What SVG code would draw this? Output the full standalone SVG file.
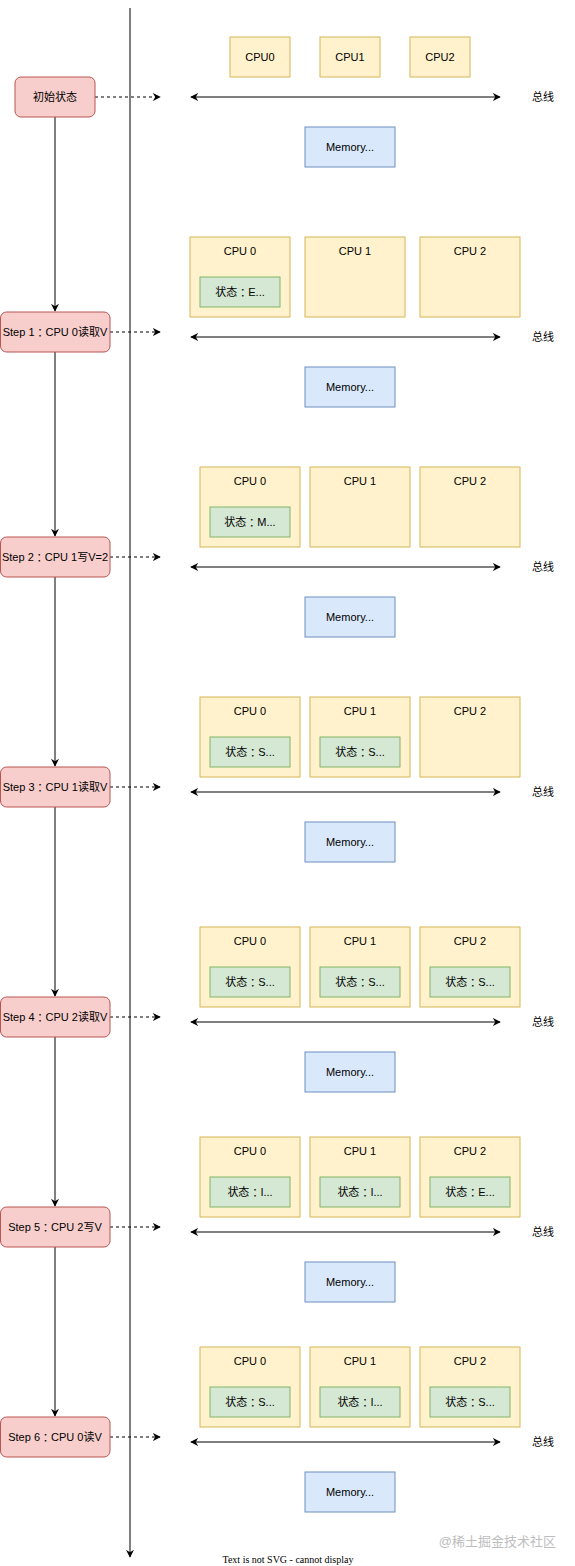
<svg xmlns="http://www.w3.org/2000/svg" width="575" height="1566" viewBox="0 0 575 1566">
<style>
text{font-family:"Liberation Sans","Noto Sans CJK SC",sans-serif;font-size:11px;fill:#000;text-anchor:middle;dominant-baseline:central}
.k{font-family:"Noto Sans CJK TC","Noto Sans CJK JP",sans-serif}
.step rect{fill:#f8cecc;stroke:#b85450;stroke-width:1}
.cpu rect.c{fill:#fff2cc;stroke:#d6b656;stroke-width:1}
.st{fill:#d5e8d4;stroke:#82b366;stroke-width:1}
.mem rect{fill:#dae8fc;stroke:#6c8ebf;stroke-width:1}
.ln{stroke:#000;stroke-width:1;fill:none}
.dash{stroke-dasharray:3 3}
.note{font-family:"Liberation Serif",serif;font-size:10px}
.wm{font-size:13px;fill:#bdbdbd;text-anchor:end}
</style>
<defs>
<marker id="ar" viewBox="0 0 10 10" refX="9" refY="5" markerWidth="8" markerHeight="8" markerUnits="userSpaceOnUse" orient="auto-start-reverse">
<path d="M0,0 L10,5 L0,10 L3,5 z" fill="#000"/>
</marker>
</defs>

<g id="connectors">
<line class="ln" x1="130" y1="8" x2="130" y2="1557" marker-end="url(#ar)"/>
<line class="ln" x1="55" y1="117" x2="55" y2="311" marker-end="url(#ar)"/>
<line class="ln" x1="55" y1="352" x2="55" y2="536" marker-end="url(#ar)"/>
<line class="ln" x1="55" y1="577" x2="55" y2="766" marker-end="url(#ar)"/>
<line class="ln" x1="55" y1="807" x2="55" y2="996" marker-end="url(#ar)"/>
<line class="ln" x1="55" y1="1037" x2="55" y2="1206" marker-end="url(#ar)"/>
<line class="ln" x1="55" y1="1247" x2="55" y2="1416" marker-end="url(#ar)"/>
<line class="ln dash" x1="95" y1="97" x2="160" y2="97" marker-end="url(#ar)"/>
<line class="ln dash" x1="110" y1="332" x2="160" y2="332" marker-end="url(#ar)"/>
<line class="ln dash" x1="110" y1="557" x2="160" y2="557" marker-end="url(#ar)"/>
<line class="ln dash" x1="110" y1="787" x2="160" y2="787" marker-end="url(#ar)"/>
<line class="ln dash" x1="110" y1="1017" x2="160" y2="1017" marker-end="url(#ar)"/>
<line class="ln dash" x1="110" y1="1227" x2="160" y2="1227" marker-end="url(#ar)"/>
<line class="ln dash" x1="110" y1="1437" x2="160" y2="1437" marker-end="url(#ar)"/>
<line class="ln" x1="191" y1="97" x2="500" y2="97" marker-start="url(#ar)" marker-end="url(#ar)"/>
<line class="ln" x1="191" y1="337" x2="500" y2="337" marker-start="url(#ar)" marker-end="url(#ar)"/>
<line class="ln" x1="191" y1="567" x2="500" y2="567" marker-start="url(#ar)" marker-end="url(#ar)"/>
<line class="ln" x1="191" y1="792" x2="500" y2="792" marker-start="url(#ar)" marker-end="url(#ar)"/>
<line class="ln" x1="191" y1="1022" x2="500" y2="1022" marker-start="url(#ar)" marker-end="url(#ar)"/>
<line class="ln" x1="191" y1="1232" x2="500" y2="1232" marker-start="url(#ar)" marker-end="url(#ar)"/>
<line class="ln" x1="191" y1="1442" x2="500" y2="1442" marker-start="url(#ar)" marker-end="url(#ar)"/>
</g>

<g id="bus-labels">
<text x="543" y="97">总线</text>
<text x="543" y="337">总线</text>
<text x="543" y="567">总线</text>
<text x="543" y="792">总线</text>
<text x="543" y="1022">总线</text>
<text x="543" y="1232">总线</text>
<text x="543" y="1442">总线</text>
</g>

<g id="step0" class="step"><rect x="15" y="77" width="80" height="40" rx="6"/><text x="55" y="97">初始状态</text></g>
<g id="step1" class="step"><rect x="0.5" y="312" width="109.5" height="40" rx="6"/><text x="55" y="332">Step 1<tspan class="k">：</tspan>CPU 0读取V</text></g>
<g id="step2" class="step"><rect x="0.5" y="537" width="109.5" height="40" rx="6"/><text x="55" y="557">Step 2<tspan class="k">：</tspan>CPU 1写V=2</text></g>
<g id="step3" class="step"><rect x="0.5" y="767" width="109.5" height="40" rx="6"/><text x="55" y="787">Step 3<tspan class="k">：</tspan>CPU 1读取V</text></g>
<g id="step4" class="step"><rect x="0.5" y="997" width="109.5" height="40" rx="6"/><text x="55" y="1017">Step 4<tspan class="k">：</tspan>CPU 2读取V</text></g>
<g id="step5" class="step"><rect x="0.5" y="1207" width="109.5" height="40" rx="6"/><text x="55" y="1227">Step 5<tspan class="k">：</tspan>CPU 2写V</text></g>
<g id="step6" class="step"><rect x="0.5" y="1417" width="109.5" height="40" rx="6"/><text x="55" y="1437">Step 6<tspan class="k">：</tspan>CPU 0读V</text></g>

<g id="s0-cpu0" class="cpu"><rect class="c" x="230" y="37" width="60" height="40"/><text x="260" y="57">CPU0</text></g>
<g id="s0-cpu1" class="cpu"><rect class="c" x="320" y="37" width="60" height="40"/><text x="350" y="57">CPU1</text></g>
<g id="s0-cpu2" class="cpu"><rect class="c" x="410" y="37" width="60" height="40"/><text x="440" y="57">CPU2</text></g>

<g id="s1-cpu0" class="cpu"><rect class="c" x="190" y="237" width="100" height="80"/><text x="240" y="251">CPU 0</text><rect class="st" x="200" y="277" width="80" height="30"/><text x="240" y="292">状态<tspan class="k">：</tspan>E...</text></g>
<g id="s1-cpu1" class="cpu"><rect class="c" x="305" y="237" width="100" height="80"/><text x="355" y="251">CPU 1</text></g>
<g id="s1-cpu2" class="cpu"><rect class="c" x="420" y="237" width="100" height="80"/><text x="470" y="251">CPU 2</text></g>

<g id="s2-cpu0" class="cpu"><rect class="c" x="200" y="467" width="100" height="80"/><text x="250" y="481">CPU 0</text><rect class="st" x="210" y="507" width="80" height="30"/><text x="250" y="522">状态<tspan class="k">：</tspan>M...</text></g>
<g id="s2-cpu1" class="cpu"><rect class="c" x="310" y="467" width="100" height="80"/><text x="360" y="481">CPU 1</text></g>
<g id="s2-cpu2" class="cpu"><rect class="c" x="420" y="467" width="100" height="80"/><text x="470" y="481">CPU 2</text></g>

<g id="s3-cpu0" class="cpu"><rect class="c" x="200" y="697" width="100" height="80"/><text x="250" y="711">CPU 0</text><rect class="st" x="210" y="737" width="80" height="30"/><text x="250" y="752">状态<tspan class="k">：</tspan>S...</text></g>
<g id="s3-cpu1" class="cpu"><rect class="c" x="310" y="697" width="100" height="80"/><text x="360" y="711">CPU 1</text><rect class="st" x="320" y="737" width="80" height="30"/><text x="360" y="752">状态<tspan class="k">：</tspan>S...</text></g>
<g id="s3-cpu2" class="cpu"><rect class="c" x="420" y="697" width="100" height="80"/><text x="470" y="711">CPU 2</text></g>

<g id="s4-cpu0" class="cpu"><rect class="c" x="200" y="927" width="100" height="80"/><text x="250" y="941">CPU 0</text><rect class="st" x="210" y="967" width="80" height="30"/><text x="250" y="982">状态<tspan class="k">：</tspan>S...</text></g>
<g id="s4-cpu1" class="cpu"><rect class="c" x="310" y="927" width="100" height="80"/><text x="360" y="941">CPU 1</text><rect class="st" x="320" y="967" width="80" height="30"/><text x="360" y="982">状态<tspan class="k">：</tspan>S...</text></g>
<g id="s4-cpu2" class="cpu"><rect class="c" x="420" y="927" width="100" height="80"/><text x="470" y="941">CPU 2</text><rect class="st" x="430" y="967" width="80" height="30"/><text x="470" y="982">状态<tspan class="k">：</tspan>S...</text></g>

<g id="s5-cpu0" class="cpu"><rect class="c" x="200" y="1137" width="100" height="80"/><text x="250" y="1151">CPU 0</text><rect class="st" x="210" y="1177" width="80" height="30"/><text x="250" y="1192">状态<tspan class="k">：</tspan>I...</text></g>
<g id="s5-cpu1" class="cpu"><rect class="c" x="310" y="1137" width="100" height="80"/><text x="360" y="1151">CPU 1</text><rect class="st" x="320" y="1177" width="80" height="30"/><text x="360" y="1192">状态<tspan class="k">：</tspan>I...</text></g>
<g id="s5-cpu2" class="cpu"><rect class="c" x="420" y="1137" width="100" height="80"/><text x="470" y="1151">CPU 2</text><rect class="st" x="430" y="1177" width="80" height="30"/><text x="470" y="1192">状态<tspan class="k">：</tspan>E...</text></g>

<g id="s6-cpu0" class="cpu"><rect class="c" x="200" y="1347" width="100" height="80"/><text x="250" y="1361">CPU 0</text><rect class="st" x="210" y="1387" width="80" height="30"/><text x="250" y="1402">状态<tspan class="k">：</tspan>S...</text></g>
<g id="s6-cpu1" class="cpu"><rect class="c" x="310" y="1347" width="100" height="80"/><text x="360" y="1361">CPU 1</text><rect class="st" x="320" y="1387" width="80" height="30"/><text x="360" y="1402">状态<tspan class="k">：</tspan>I...</text></g>
<g id="s6-cpu2" class="cpu"><rect class="c" x="420" y="1347" width="100" height="80"/><text x="470" y="1361">CPU 2</text><rect class="st" x="430" y="1387" width="80" height="30"/><text x="470" y="1402">状态<tspan class="k">：</tspan>S...</text></g>

<g id="mem0" class="mem"><rect x="305" y="127" width="90" height="40"/><text x="350" y="147">Memory...</text></g>
<g id="mem1" class="mem"><rect x="305" y="367" width="90" height="40"/><text x="350" y="387">Memory...</text></g>
<g id="mem2" class="mem"><rect x="305" y="597" width="90" height="40"/><text x="350" y="617">Memory...</text></g>
<g id="mem3" class="mem"><rect x="305" y="822" width="90" height="40"/><text x="350" y="842">Memory...</text></g>
<g id="mem4" class="mem"><rect x="305" y="1052" width="90" height="40"/><text x="350" y="1072">Memory...</text></g>
<g id="mem5" class="mem"><rect x="305" y="1262" width="90" height="40"/><text x="350" y="1282">Memory...</text></g>
<g id="mem6" class="mem"><rect x="305" y="1472" width="90" height="40"/><text x="350" y="1492">Memory...</text></g>

<text class="wm" x="556" y="1541">@稀土掘金技术社区</text>
<text class="note" x="288" y="1559">Text is not SVG - cannot display</text>
</svg>
